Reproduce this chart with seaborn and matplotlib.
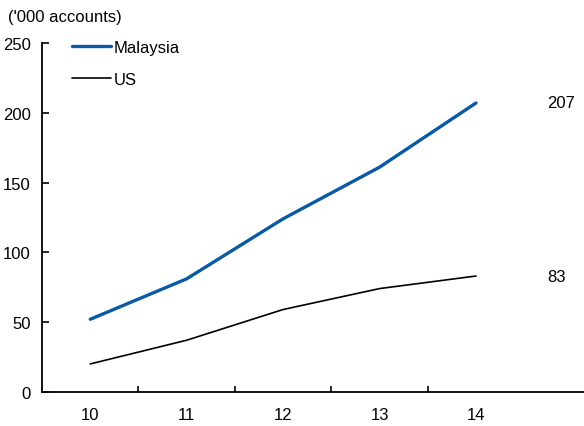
import matplotlib
matplotlib.use("Agg")
import matplotlib.pyplot as plt
from matplotlib.ticker import FixedLocator
from matplotlib.lines import Line2D
import pandas as pd
import seaborn as sns

years = ["10", "11", "12", "13", "14"]
malaysia = [52, 81, 124, 161, 207]
us = [20, 37, 59, 74, 83]
y_ticks = [0, 50, 100, 150, 200, 250]

sns.set_theme(style="white")
plt.rcParams["font.family"] = ["Liberation Sans", "DejaVu Sans"]
plt.rcParams["text.color"] = "black"
plt.rcParams["xtick.labelcolor"] = "black"
plt.rcParams["ytick.labelcolor"] = "black"

df = pd.DataFrame({
    "year": years * 2,
    "value": malaysia + us,
    "series": ["Malaysia"] * len(years) + ["US"] * len(years),
})

blue = "#0a5aa3"

fig = plt.figure(figsize=(5.84, 4.27), dpi=100)
ax = fig.add_axes([0.072, 0.080, 0.928, 0.817])

sns.lineplot(data=df, x="year", y="value", hue="series", size="series",
             palette={"Malaysia": blue, "US": "#000000"},
             sizes={"Malaysia": 2.4, "US": 1.2},
             ax=ax, legend=False)

ax.set_xlim(-0.5, 5.12)
ax.set_ylim(0, 250)
ax.set_yticks(y_ticks)
ax.set_xlabel("")
ax.set_ylabel("")

for s in ["top", "right"]:
    ax.spines[s].set_visible(False)
for s in ["left", "bottom"]:
    ax.spines[s].set_color("black")
    ax.spines[s].set_linewidth(1.3)

ax.tick_params(axis="y", direction="in", length=5, width=1.2, color="black",
               labelsize=12, pad=8, left=True, labelcolor="black")
ax.tick_params(axis="x", which="major", length=0, labelsize=12, pad=11,
               labelcolor="black")
ax.xaxis.set_minor_locator(FixedLocator([0.5, 1.5, 2.5, 3.5]))
ax.tick_params(axis="x", which="minor", direction="in", length=4, width=1.2,
               color="black", bottom=True)

# end-of-line value labels
ax.text(4.74, malaysia[-1], str(malaysia[-1]), fontsize=12, va="center",
        ha="left", color="black")
ax.text(4.74, us[-1], str(us[-1]), fontsize=12, va="center", ha="left",
        color="black")

# legend entries
handles = [Line2D([], [], color=blue, lw=2.4), Line2D([], [], color="black", lw=1.2)]
leg = ax.legend(handles, ["Malaysia", "US"], loc="upper left",
                bbox_to_anchor=(0.028, 1.052), frameon=False, fontsize=12,
                handlelength=2.35, handletextpad=0.15, labelspacing=1.0)
for t in leg.get_texts():
    t.set_color("black")

fig.text(0.013, 0.958, "('000 accounts)", fontsize=12, ha="left", va="center",
         color="black")

fig.savefig("out.png", dpi=100)
